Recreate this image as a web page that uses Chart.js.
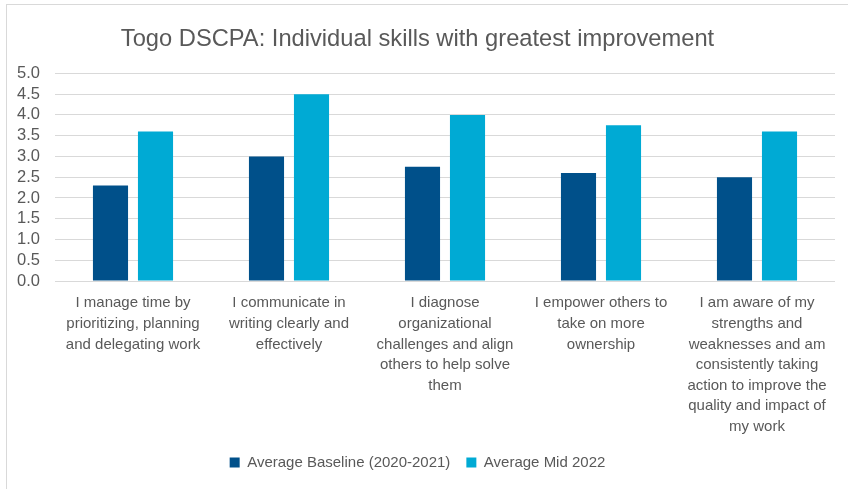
<!DOCTYPE html>
<html>
<head>
<meta charset="utf-8">
<script src="https://cdn.jsdelivr.net/npm/chart.js@4"></script>
<style>
  html, body { margin: 0; padding: 0; background: #fff; overflow: hidden; }
  #frame { position: absolute; left: 6px; top: 4px; width: 900px; height: 600px; border: 1px solid #d9d9d9; }
  #wrap { position: absolute; left: 0; top: 0; width: 848px; height: 489px; }
</style>
</head>
<body>
<div id="frame"></div>
<div id="wrap"><canvas id="chart"></canvas></div>
<script>
const categories = [
  ['I manage time by', 'prioritizing, planning', 'and delegating work'],
  ['I communicate in', 'writing clearly and', 'effectively'],
  ['I diagnose', 'organizational', 'challenges and align', 'others to help solve', 'them'],
  ['I empower others to', 'take on more', 'ownership'],
  ['I am aware of my', 'strengths and', 'weaknesses and am', 'consistently taking', 'action to improve the', 'quality and impact of', 'my work']
];
const baseline = [2.3, 3.0, 2.75, 2.6, 2.5];
const mid2022 = [3.6, 4.5, 4.0, 3.75, 3.6];

const grey = '#595959';
const font = 'Liberation Sans';

const ctx = document.getElementById('chart').getContext('2d');
const chart = new Chart(ctx, {
  type: 'bar',
  data: {
    labels: categories,
    datasets: [
      { label: 'Average Baseline (2020-2021)', data: baseline, backgroundColor: '#00508a' },
      { label: 'Average Mid 2022', data: mid2022, backgroundColor: '#00aad4' }
    ]
  },
  options: {
    responsive: true,
    maintainAspectRatio: false,
    animation: false,
    categoryPercentage: 0.577,
    barPercentage: 0.78,
    layout: { padding: { left: 0, right: 13, top: 0, bottom: 9 } },
    plugins: {
      title: {
        display: true,
        text: 'Togo DSCPA: Individual skills with greatest improvement',
        color: grey,
        font: { family: font, size: 23.7, weight: 'normal', lineHeight: 1.2 },
        padding: { top: 25, bottom: 20 }
      },
      legend: {
        position: 'bottom',
        labels: {
          color: grey,
          font: { family: font, size: 15 },
          boxWidth: 10,
          boxHeight: 10,
          padding: 16
        }
      },
      tooltip: { enabled: false }
    },
    scales: {
      x: {
        grid: { display: false, drawTicks: false },
        border: { display: false },
        ticks: {
          color: grey,
          font: { family: font, size: 15, lineHeight: 1.37 },
          padding: 12,
          maxRotation: 0,
          autoSkip: false
        },
        afterFit: (s) => { s.height = 158; }
      },
      y: {
        min: 0,
        max: 5,
        grid: { color: '#d9d9d9', lineWidth: 1, drawTicks: false },
        border: { display: false },
        ticks: {
          stepSize: 0.5,
          autoSkip: false,
          color: grey,
          font: { family: font, size: 16.5 },
          padding: 15,
          callback: (v) => v.toFixed(1)
        },
        afterFit: (s) => { s.width = 55; }
      }
    }
  }
});
</script>
</body>
</html>
